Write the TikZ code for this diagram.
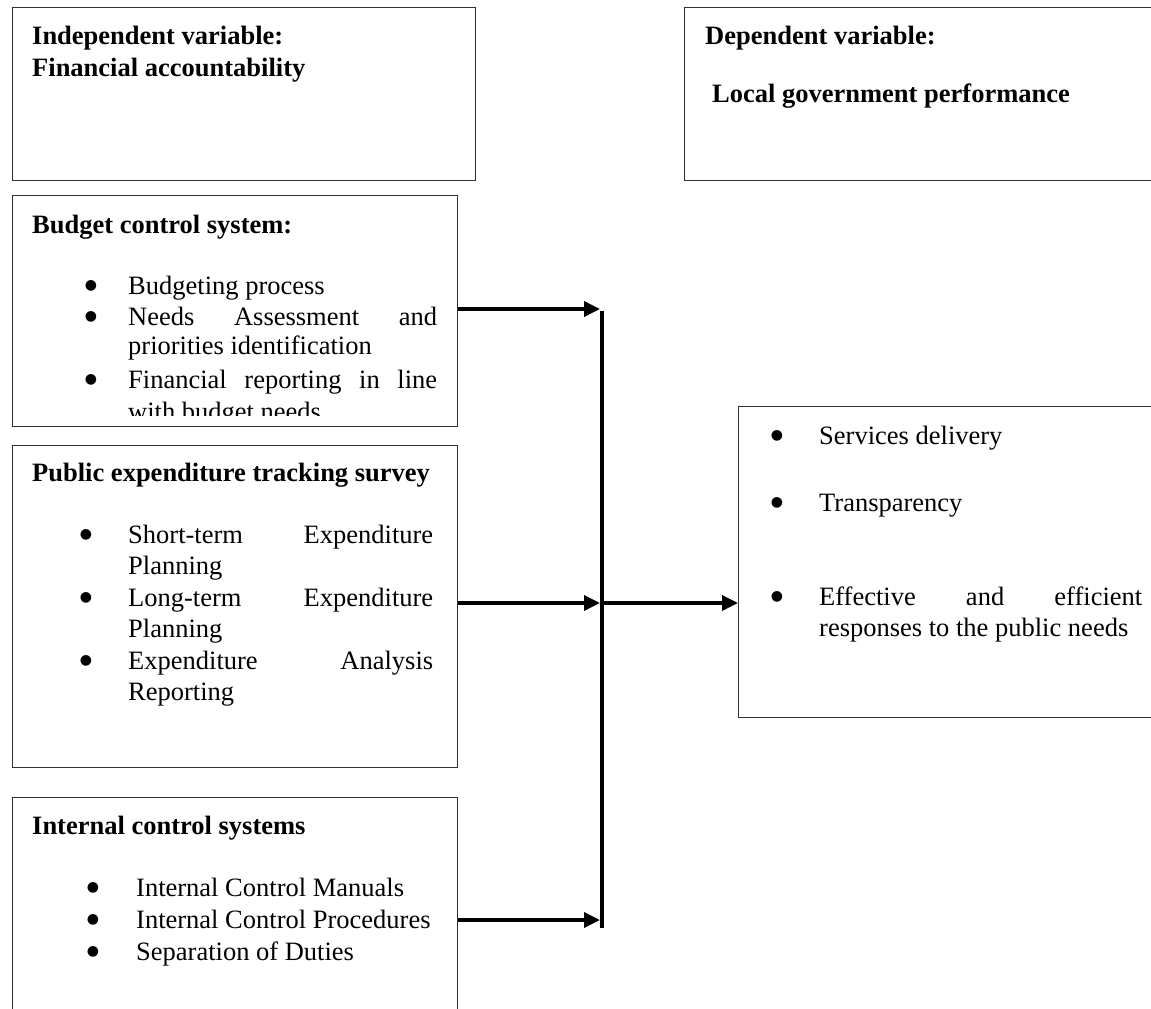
\documentclass[tikz,border=0pt]{standalone}
\usepackage{fontspec}
\setmainfont{Liberation Serif}
\newfontfamily\bulfont{DejaVu Sans}
\usetikzlibrary{arrows.meta}
\begin{document}
\begin{tikzpicture}[x=1pt,y=-1pt,
  box/.style={draw=black!80,line width=1.3pt,anchor=north west,inner sep=0pt},
  txt/.style={anchor=base west,inner sep=0pt,font=\fontsize{26.5}{31}\selectfont},
  hd/.style={anchor=base west,inner sep=0pt,font=\fontsize{26.5}{31}\selectfont\bfseries},
  bul/.style={anchor=center,inner sep=0pt,yshift=8pt,font=\bulfont\fontsize{14}{14}\selectfont},
  arr/.style={line width=3.5pt,-{Triangle[length=16pt,width=15pt]}},
  bar/.style={line width=4pt}
]
\useasboundingbox (0,0) rectangle (1151,1009);
\clip (0,0) rectangle (1151,1009);

% boxes
\node[box,minimum width=463pt,minimum height=173pt] (indep) at (12,7) {};
\node[box,minimum width=520pt,minimum height=173pt] (dep) at (684,7) {};
\node[box,minimum width=445pt,minimum height=231pt] (budget) at (12,195) {};
\node[box,minimum width=445pt,minimum height=322pt] (pets) at (12,445) {};
\node[box,minimum width=445pt,minimum height=260pt] (icsys) at (12,797) {};
\node[box,minimum width=480pt,minimum height=311pt] (perf) at (738,406) {};

% header texts
\node[hd] (t1) at (32,44) {Independent variable:};
\node[hd] (t2) at (32,76) {Financial accountability};
\node[hd] (t3) at (705,44) {Dependent variable:};
\node[hd] (t4) at (712,102) {Local government performance};

% budget control system
\node[hd] (bh) at (32,233) {Budget control system:};
\begin{scope}
\clip (12,195) rectangle (457,415);
\node[bul] (bb1) at (91,294) {●};
\node[txt] (bt1) at (128,294) {Budgeting process};
\node[bul] (bb2) at (91,325) {●};
\node[txt] (bt2) at (128,325) {\makebox[309pt][s]{Needs Assessment and}};
\node[txt] (bt3) at (128,354) {priorities identification};
\node[bul] (bb3) at (91,388) {●};
\node[txt] (bt4) at (128,388) {\makebox[309pt][s]{Financial reporting in line}};
\node[txt] (bt5) at (128,420) {with budget needs};
\end{scope}

% public expenditure tracking survey
\node[hd] (ph) at (32,481) {Public expenditure tracking survey};
\node[bul] (pb1) at (86,543) {●};
\node[txt] (pt1) at (128,543) {\makebox[305pt][s]{Short-term Expenditure}};
\node[txt] (pt2) at (128,574) {Planning};
\node[bul] (pb2) at (86,606) {●};
\node[txt] (pt3) at (128,606) {\makebox[305pt][s]{Long-term Expenditure}};
\node[txt] (pt4) at (128,637) {Planning};
\node[bul] (pb3) at (86,669) {●};
\node[txt] (pt5) at (128,669) {\makebox[305pt][s]{Expenditure Analysis}};
\node[txt] (pt6) at (128,700) {Reporting};

% internal control systems
\node[hd] (ih) at (32,834) {Internal control systems};
\node[bul] (ib1) at (93,896) {●};
\node[txt] (it1) at (136,896) {Internal Control Manuals};
\node[bul] (ib2) at (93,928) {●};
\node[txt] (it2) at (136,928) {Internal Control Procedures};
\node[bul] (ib3) at (93,960) {●};
\node[txt] (it3) at (136,960) {Separation of Duties};

% outcomes
\node[bul] (ob1) at (777,444) {●};
\node[txt] (ot1) at (819,444) {Services delivery};
\node[bul] (ob2) at (777,511) {●};
\node[txt] (ot2) at (819,511) {Transparency};
\node[bul] (ob3) at (777,605) {●};
\node[txt] (ot3) at (819,605) {\makebox[323pt][s]{Effective and efficient}};
\node[txt] (ot4) at (819,636) {responses to the public needs};

% connectors
\coordinate (jtop) at (602,309);
\coordinate (jmid) at (602,603);
\coordinate (jlow) at (602,920);
\coordinate (jend) at (602,928);
\draw[bar] ([yshift=-1.75pt]jtop) -- (jend);
\draw[arr] (budget.east |- jtop) -- ([xshift=-2pt]jtop);
\draw[arr] (pets.east |- jmid) -- ([xshift=-2pt]jmid);
\draw[arr] (icsys.east |- jlow) -- ([xshift=-2pt]jlow);
\draw[arr] (jmid) -- (perf.west |- jmid);
\end{tikzpicture}
\end{document}
